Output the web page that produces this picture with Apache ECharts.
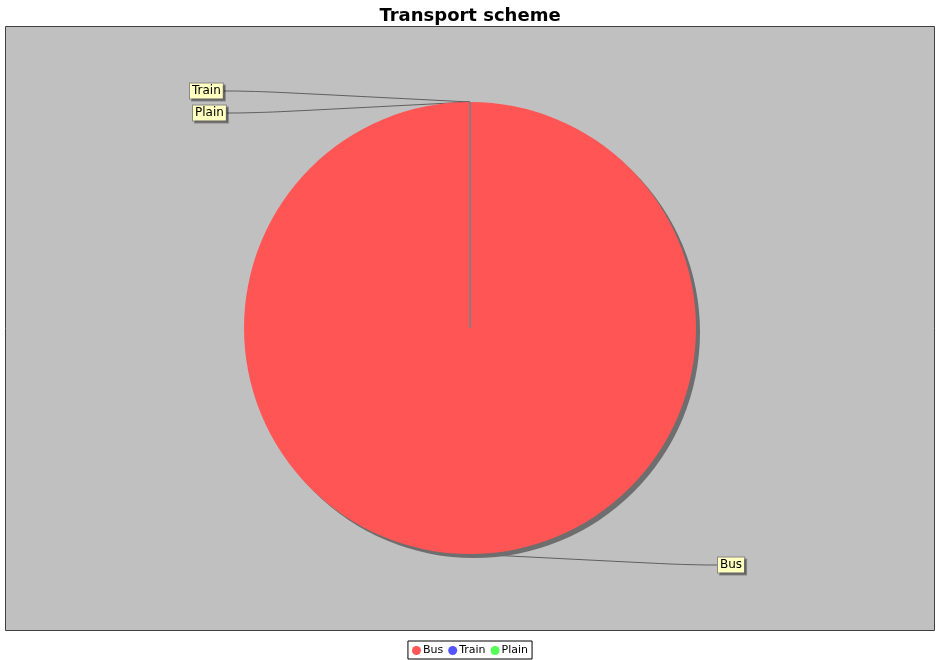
<!DOCTYPE html>
<html><head><meta charset="utf-8">
<script src="https://cdn.jsdelivr.net/npm/echarts@6/dist/echarts.min.js"></script>
<style>html,body{margin:0;padding:0;background:#fff}#c{width:940px;height:660px}</style>
</head><body><div id="c"></div>
<script>
const categories = ['Bus', 'Train', 'Plain'];
const values = [100, 0, 0];
const colors = ['#FF5555', '#5555FF', '#55FF55'];
const labelPos = [[718, 565], [190, 91], [193, 113]];

const chart = echarts.init(document.getElementById('c'), null, {renderer: 'canvas'});
const data = categories.map((c, i) => ({
  name: c, value: values[i],
  itemStyle: i === 0
    ? {color: colors[i], borderWidth: 0, shadowColor: 'rgba(110,110,110,1)', shadowOffsetX: 4, shadowOffsetY: 4, shadowBlur: 0}
    : {color: colors[i], borderColor: '#808080', borderWidth: 1}
}));
chart.setOption({
  animation: false,
  backgroundColor: '#ffffff',
  title: {text: 'Transport scheme', left: 'center', top: 2,
    textStyle: {fontFamily: 'DejaVu Sans', fontWeight: 'bold', fontSize: 18, color: '#000'}},
  graphic: [{type: 'rect', z: -10, shape: {x: 5.5, y: 26.5, width: 929, height: 604},
    style: {fill: '#C0C0C0', stroke: '#404040', lineWidth: 1}}],
  legend: {bottom: 1, left: 'center', data: categories, icon: 'circle', itemWidth: 9, itemHeight: 9,
    itemGap: 5, padding: [4, 4, 3, 4], borderColor: '#000', borderWidth: 1, backgroundColor: '#fff',
    itemStyle: {borderWidth: 0},
    textStyle: {fontFamily: 'DejaVu Sans', fontSize: 11, color: '#000', padding: [0, 0, 0, -3]}},
  series: [{
    type: 'pie', center: [470, 328], radius: 226, startAngle: 90, clockwise: true,
    avoidLabelOverlap: false, minShowLabelAngle: 0,
    label: {show: true, position: 'outside', formatter: '{b}', color: '#000',
      fontFamily: 'DejaVu Sans', fontSize: 12, backgroundColor: '#FFFFC0',
      borderColor: '#888', borderWidth: 1, padding: [2, 2, 1, 2],
      shadowColor: 'rgba(0,0,0,0.3)', shadowOffsetX: 2, shadowOffsetY: 2, shadowBlur: 0},
    labelLine: {show: true, smooth: 0.6, lineStyle: {color: '#333', width: 0.7}},
    labelLayout: function (p) {
      const pos = labelPos[p.dataIndex];
      return {x: pos[0], y: pos[1], align: 'left', verticalAlign: 'middle'};
    },
    data: data
  }]
});
</script></body></html>
